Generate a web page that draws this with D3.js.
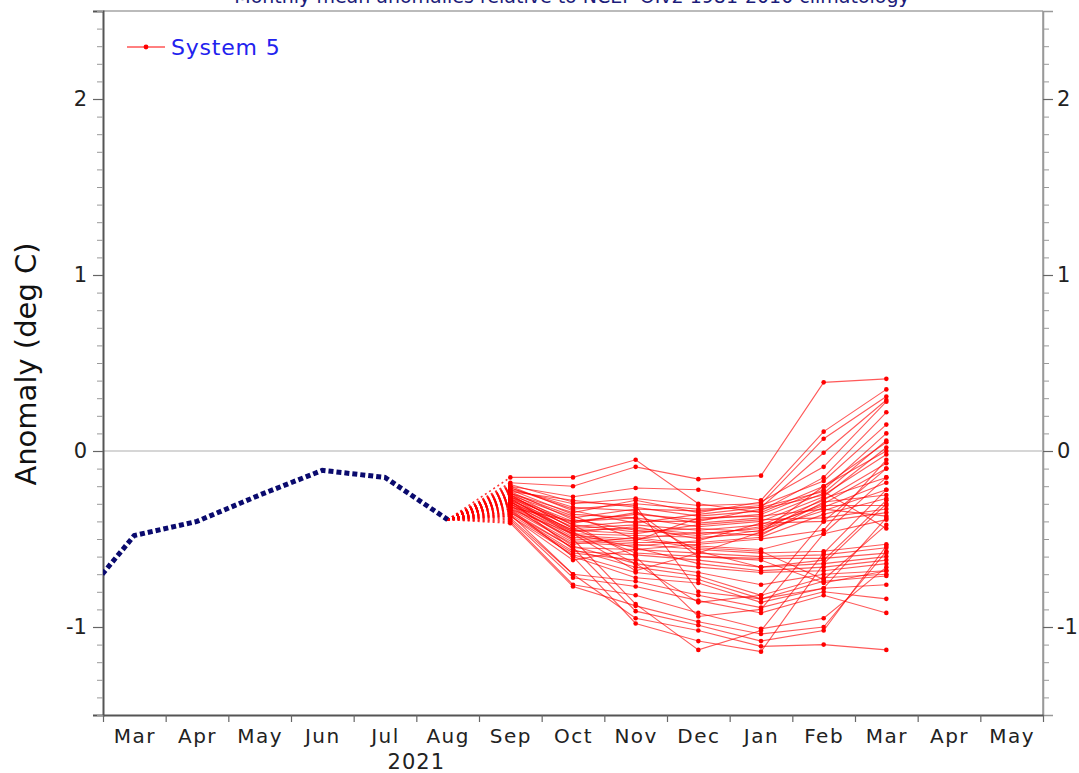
<!DOCTYPE html>
<html><head><meta charset="utf-8">
<script src="https://cdn.jsdelivr.net/npm/d3@7"></script>
<style>body{margin:0;background:#fff}svg{display:block}text{font-family:"DejaVu Sans",sans-serif}</style>
</head><body>
<svg id="c" width="1079" height="773"></svg>
<script>
// ---- data ----
const monthLabels = ["Mar","Apr","May","Jun","Jul","Aug","Sep","Oct","Nov","Dec","Jan","Feb","Mar","Apr","May"];
const yearLabel = "2021";
const obsMonths = [-0.5, 0.5, 1.5, 2.5, 3.5, 4.5, 5.5]; // Feb..Aug 2021 (mid-month index)
const obsValues = [-0.91, -0.48, -0.40, -0.25, -0.11, -0.15, -0.39];
const fcMonths = [6.5, 7.5, 8.5, 9.5, 10.5, 11.5, 12.5]; // Sep 2021 .. Mar 2022
const members = [
 [-0.15,-0.15,-0.05,-0.30,-0.35,-0.20, 0.05],
 [-0.18,-0.20,-0.09,-0.16,-0.14, 0.39, 0.41],
 [-0.20,-0.26,-0.21,-0.22,-0.28, 0.11, 0.35],
 [-0.22,-0.30,-0.27,-0.31,-0.30, 0.07, 0.31],
 [-0.21,-0.33,-0.30,-0.33,-0.32,-0.01, 0.29],
 [-0.24,-0.35,-0.28,-0.35,-0.29,-0.09, 0.28],
 [-0.23,-0.28,-0.32,-0.37,-0.34,-0.15, 0.22],
 [-0.25,-0.38,-0.33,-0.34,-0.31,-0.17, 0.15],
 [-0.26,-0.40,-0.36,-0.39,-0.36,-0.22, 0.10],
 [-0.27,-0.41,-0.35,-0.41,-0.38,-0.24, 0.06],
 [-0.22,-0.36,-0.38,-0.43,-0.40,-0.26, 0.02],
 [-0.28,-0.43,-0.40,-0.40,-0.33,-0.25,-0.02],
 [-0.25,-0.44,-0.42,-0.45,-0.42,-0.28,-0.07],
 [-0.29,-0.45,-0.44,-0.47,-0.44,-0.30,-0.10],
 [-0.24,-0.42,-0.46,-0.44,-0.46,-0.27,-0.15],
 [-0.30,-0.47,-0.48,-0.49,-0.47,-0.32,-0.18],
 [-0.26,-0.46,-0.43,-0.50,-0.45,-0.34,-0.22],
 [-0.27,-0.48,-0.50,-0.46,-0.48,-0.29,-0.25],
 [-0.31,-0.50,-0.52,-0.52,-0.49,-0.36,-0.27],
 [-0.23,-0.39,-0.45,-0.48,-0.43,-0.31,-0.31],
 [-0.28,-0.45,-0.47,-0.42,-0.39,-0.38,-0.33],
 [-0.32,-0.52,-0.54,-0.51,-0.41,-0.40,-0.35],
 [-0.29,-0.49,-0.51,-0.38,-0.37,-0.33,-0.37],
 [-0.33,-0.53,-0.49,-0.54,-0.56,-0.47,-0.39],
 [-0.20,-0.34,-0.41,-0.36,-0.32,-0.23,-0.44],
 [-0.30,-0.51,-0.53,-0.56,-0.58,-0.57,-0.53],
 [-0.34,-0.55,-0.56,-0.58,-0.60,-0.59,-0.55],
 [-0.25,-0.44,-0.58,-0.60,-0.61,-0.61,-0.58],
 [-0.35,-0.57,-0.59,-0.62,-0.66,-0.64,-0.60],
 [-0.27,-0.47,-0.55,-0.64,-0.68,-0.66,-0.62],
 [-0.36,-0.58,-0.62,-0.66,-0.69,-0.68,-0.64],
 [-0.31,-0.54,-0.64,-0.69,-0.76,-0.70,-0.68],
 [-0.28,-0.56,-0.66,-0.71,-0.82,-0.72,-0.70],
 [-0.37,-0.59,-0.69,-0.73,-0.84,-0.74,-0.71],
 [-0.33,-0.60,-0.72,-0.75,-0.86,-0.78,-0.76],
 [-0.38,-0.70,-0.74,-0.82,-0.89,-0.80,-0.84],
 [-0.39,-0.72,-0.77,-0.85,-0.92,-0.82,-0.92],
 [-0.40,-0.76,-0.82,-0.92,-1.01,-0.95,-0.66],
 [-0.41,-0.77,-0.88,-0.97,-1.04,-1.00,-0.57],
 [-0.35,-0.55,-0.91,-0.99,-1.08,-1.02,-0.54],
 [-0.36,-0.70,-0.95,-1.02,-1.11,-1.10,-1.13],
 [-0.34,-0.60,-0.98,-1.08,-1.14,-0.64,-0.30],
 [-0.30,-0.50,-0.87,-1.13,-1.02,-0.58,-0.22],
 [-0.26,-0.42,-0.60,-0.94,-0.90,-0.47,-0.15],
 [-0.29,-0.46,-0.64,-0.86,-0.82,-0.40,-0.10],
 [-0.32,-0.40,-0.38,-0.57,-0.66,-0.62,-0.28],
 [-0.24,-0.37,-0.50,-0.55,-0.57,-0.73,-0.42],
 [-0.21,-0.32,-0.34,-0.60,-0.62,-0.75,-0.68],
 [-0.19,-0.29,-0.31,-0.80,-0.84,-0.78,-0.38],
 [-0.37,-0.62,-0.56,-0.53,-0.50,-0.45,-0.05],
 [-0.33,-0.47,-0.68,-0.58,-0.46,-0.20, 0.00]
];
const yMajor = [-1, 0, 1, 2];
const titleText = "Monthly mean anomalies relative to NCEP OIv2 1981-2010 climatology";
const yTitle = "Anomaly (deg C)";
const legendLabel = "System 5";

// ---- layout ----
const L = 103, R = 1043, T = 11, B = 715;
const svg = d3.select("#c");
const x = d3.scaleLinear().domain([0, 15]).range([L, R]);
const y = d3.scaleLinear().domain([-1.5, 2.5]).range([B, T]);
const fmt = d => String(d);

svg.append("defs").append("clipPath").attr("id","clip")
  .append("rect").attr("x",L).attr("y",T).attr("width",R-L).attr("height",B-T);

// title (partly cut off at top, as in the reference)
svg.append("text").attr("x",572).attr("y",3).attr("text-anchor","middle")
  .attr("font-size",19).attr("fill","#1c1c7a").text(titleText);

// frame
svg.append("line").attr("x1",L).attr("x2",R).attr("y1",T).attr("y2",T).attr("stroke","#bbb").attr("stroke-width",2);
svg.append("line").attr("x1",R).attr("x2",R).attr("y1",T).attr("y2",B).attr("stroke","#999").attr("stroke-width",1.5);

// zero line
svg.append("line").attr("x1",L).attr("x2",R).attr("y1",y(0)).attr("y2",y(0)).attr("stroke","#c8c8c8").attr("stroke-width",1.5);

// y axes
const minor = d3.range(-15, 26).map(d => d/10).filter(d => !yMajor.some(m => Math.abs(m-d)<1e-6));
function styleAxis(g){ g.select(".domain").attr("stroke","#555").attr("stroke-width",2); g.selectAll(".tick line").attr("stroke","#666").attr("stroke-width",1.2); g.selectAll("text").attr("font-family","DejaVu Sans").attr("fill","#222"); }
const yl = svg.append("g").attr("transform",`translate(${L},0)`)
  .call(d3.axisLeft(y).tickValues(yMajor).tickSize(10).tickPadding(6).tickFormat(fmt));
styleAxis(yl); yl.selectAll("text").attr("font-size",21);
const ylm = svg.append("g").attr("transform",`translate(${L},0)`)
  .call(d3.axisLeft(y).tickValues(minor).tickSize(6).tickFormat(""));
ylm.select(".domain").remove(); ylm.selectAll(".tick line").attr("stroke","#999");
const yr = svg.append("g").attr("transform",`translate(${R},0)`)
  .call(d3.axisRight(y).tickValues(yMajor).tickSize(10).tickPadding(4).tickFormat(fmt));
styleAxis(yr); yr.select(".domain").attr("stroke","#999").attr("stroke-width",1.5); yr.selectAll("text").attr("font-size",21);
const yrm = svg.append("g").attr("transform",`translate(${R},0)`)
  .call(d3.axisRight(y).tickValues(minor).tickSize(6).tickFormat(""));
yrm.select(".domain").remove(); yrm.selectAll(".tick line").attr("stroke","#999");

// x axis
const xb = svg.append("g").attr("transform",`translate(0,${B})`)
  .call(d3.axisBottom(x).tickValues(d3.range(0,16)).tickSize(7).tickFormat("").tickSizeOuter(0));
styleAxis(xb);
const xl = svg.append("g").attr("transform",`translate(0,${B})`)
  .call(d3.axisBottom(x).tickValues(d3.range(0,15).map(i=>i+0.5)).tickSize(0).tickPadding(14)
    .tickFormat((d,i)=>monthLabels[i]));
xl.select(".domain").remove();
xl.selectAll("text").attr("font-size",20).attr("fill","#222").attr("letter-spacing","1.5px");
svg.append("text").attr("x",x(5)).attr("y",769).attr("text-anchor","middle")
  .attr("font-size",21).attr("fill","#222").attr("letter-spacing","1px").text(yearLabel);

// y title
svg.append("text").attr("transform","translate(36,364) rotate(-90)").attr("text-anchor","middle")
  .attr("font-size",29).attr("fill","#111").text(yTitle);

// plot
const plot = svg.append("g").attr("clip-path","url(#clip)");
const line = d3.line().x(d=>x(d[0])).y(d=>y(d[1]));
const aug = [obsMonths[obsMonths.length-1], obsValues[obsValues.length-1]];

// dotted connectors from last obs to first forecast month
plot.selectAll(".conn").data(members).join("path")
  .attr("d", m => line([aug, [fcMonths[0], m[0]]]))
  .attr("fill","none").attr("stroke","#ff0000").attr("stroke-width",1.6).attr("stroke-dasharray","2,3").attr("opacity",0.8);

// members
plot.selectAll(".mem").data(members).join("path")
  .attr("d", m => line(m.map((v,i)=>[fcMonths[i], v])))
  .attr("fill","none").attr("stroke","#ff0000").attr("stroke-width",1.1).attr("stroke-opacity",0.65);
members.forEach(m => {
  plot.selectAll(null).data(m).join("circle")
    .attr("cx",(v,i)=>x(fcMonths[i])).attr("cy",v=>y(v)).attr("r",2.3).attr("fill","#ff0000");
});

// observations
plot.append("path").attr("d", line(obsMonths.map((m,i)=>[m, obsValues[i]])))
  .attr("fill","none").attr("stroke","#0a0a6e").attr("stroke-width",5).attr("stroke-dasharray","5,3");

// legend
svg.append("line").attr("x1",127).attr("x2",165).attr("y1",47).attr("y2",47).attr("stroke","#ff0000").attr("stroke-width",1);
svg.append("circle").attr("cx",146).attr("cy",47).attr("r",2.4).attr("fill","#ff0000");
svg.append("text").attr("x",171).attr("y",55).attr("font-size",22).attr("letter-spacing","0.8px").attr("fill","#2222ee").text(legendLabel);
</script>
</body></html>
